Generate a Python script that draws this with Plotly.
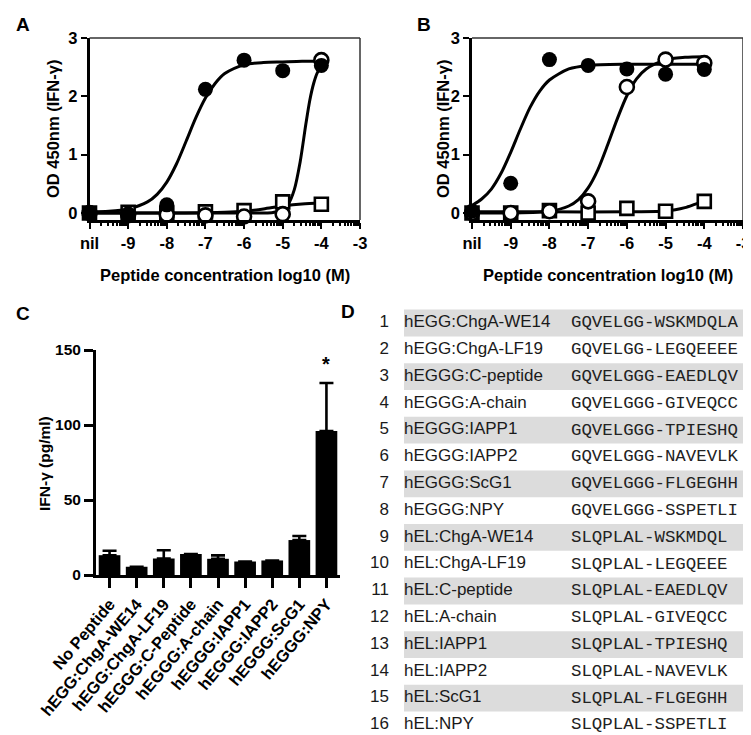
import numpy as np
import plotly.graph_objects as go

FONT = "Arial, Liberation Sans, Helvetica, sans-serif"
MONO = "Courier New, Liberation Mono, monospace"
W, H = 751, 735

# ---------------- data: panels A and B ----------------
conc_ticks = [-10, -9, -8, -7, -6, -5, -4, -3]
conc_labels = ["nil", "-9", "-8", "-7", "-6", "-5", "-4", "-3"]
conc = [-10, -9, -8, -7, -6, -5, -4]

a_filled = [0.00, -0.05, 0.14, 2.12, 2.62, 2.44, 2.53]
a_open = [0.00, -0.03, -0.03, -0.04, -0.06, -0.02, 2.62]
a_square = [0.00, 0.01, 0.00, 0.02, 0.04, 0.19, 0.15]

b_filled = [0.03, 0.51, 2.63, 2.53, 2.47, 2.38, 2.46]
b_open = [0.00, 0.00, 0.03, 0.20, 2.16, 2.63, 2.57]
b_square = [0.00, 0.00, 0.04, 0.00, 0.08, 0.03, 0.20]

# fitted curves
a_fit_filled_x = [-10, -9.5, -9, -8.5, -8.25, -8, -7.75, -7.5, -7.25, -7, -6.75, -6.5, -6, -5.5, -5, -4.5, -4]
a_fit_filled_y = [0.02, 0.03, 0.07, 0.19, 0.32, 0.53, 0.84, 1.23, 1.63, 1.97, 2.22, 2.39, 2.54, 2.58, 2.59, 2.60, 2.60]
a_fit_open_x = [-10, -9, -8, -7, -6, -5.5, -5.25, -5, -4.85, -4.7, -4.55, -4.4, -4.3, -4.2, -4.1, -4]
a_fit_open_y = [0.00, 0.00, 0.00, 0.00, 0.00, 0.00, 0.01, 0.06, 0.16, 0.40, 0.87, 1.53, 1.93, 2.22, 2.41, 2.51]
a_fit_square_x = [-10, -9, -8, -7, -6.5, -6, -5.5, -5, -4.5, -4]
a_fit_square_y = [0.00, 0.00, 0.00, 0.004, 0.011, 0.03, 0.07, 0.12, 0.155, 0.171]

b_fit_filled_x = [-10, -9.75, -9.5, -9.25, -9, -8.75, -8.5, -8.25, -8, -7.5, -7, -6, -5, -4]
b_fit_filled_y = [0.13, 0.24, 0.41, 0.68, 1.04, 1.44, 1.81, 2.09, 2.28, 2.47, 2.53, 2.55, 2.55, 2.55]
b_fit_open_x = [-10, -9, -8, -7.5, -7.25, -7, -6.75, -6.5, -6.25, -6, -5.75, -5.5, -5, -4.5, -4]
b_fit_open_y = [0.00, 0.00, 0.03, 0.12, 0.23, 0.43, 0.74, 1.16, 1.61, 2.01, 2.30, 2.47, 2.63, 2.67, 2.68]
b_fit_square_x = [-10, -8, -6, -5, -4.75, -4.5, -4.25, -4]
b_fit_square_y = [0.02, 0.02, 0.02, 0.036, 0.057, 0.093, 0.148, 0.207]

# ---------------- data: panel C ----------------
c_categories = ["No Peptide", "hEGG:ChgA-WE14", "hEGG:ChgA-LF19", "hEGGG:C-Peptide",
                "hEGGG:A-chain", "hEGGG:IAPP1", "hEGGG:IAPP2", "hEGGG:ScG1", "hEGGG:NPY"]
c_values = [13.2, 5.5, 11.0, 14.0, 10.8, 9.0, 9.7, 23.3, 96.0]
c_errors = [3.0, 0.0, 5.5, 0.0, 2.3, 0.0, 0.0, 2.7, 32.0]
c_star_category = "hEGGG:NPY"

# ---------------- data: panel D ----------------
d_rows = list(range(1, 17))
d_names = ["hEGG:ChgA-WE14", "hEGG:ChgA-LF19", "hEGGG:C-peptide", "hEGGG:A-chain",
           "hEGGG:IAPP1", "hEGGG:IAPP2", "hEGGG:ScG1", "hEGGG:NPY",
           "hEL:ChgA-WE14", "hEL:ChgA-LF19", "hEL:C-peptide", "hEL:A-chain",
           "hEL:IAPP1", "hEL:IAPP2", "hEL:ScG1", "hEL:NPY"]
d_sequences = ["GQVELGG-WSKMDQLA", "GQVELGG-LEGQEEEE", "GQVELGGG-EAEDLQV", "GQVELGGG-GIVEQCC",
               "GQVELGGG-TPIESHQ", "GQVELGGG-NAVEVLK", "GQVELGGG-FLGEGHH", "GQVELGGG-SSPETLI",
               "SLQPLAL-WSKMDQL", "SLQPLAL-LEGQEEE", "SLQPLAL-EAEDLQV", "SLQPLAL-GIVEQCC",
               "SLQPLAL-TPIESHQ", "SLQPLAL-NAVEVLK", "SLQPLAL-FLGEGHH", "SLQPLAL-SSPETLI"]

# ---------------- figure ----------------
fig = go.Figure()


def px_x(p):
    return p / W


def px_y(p):
    return 1 - p / H


def add_dose_panel(xa, ya, filled, opn, sq, fits):
    for fx, fy in fits:
        fig.add_trace(go.Scatter(x=fx, y=fy, mode="lines", line=dict(color="black", width=3, shape="spline", smoothing=0.8),
                                 xaxis=xa, yaxis=ya, hoverinfo="skip", cliponaxis=False))
    fig.add_trace(go.Scatter(x=conc, y=sq, mode="markers", xaxis=xa, yaxis=ya, cliponaxis=False,
                             marker=dict(symbol="square", size=13, color="white", line=dict(color="black", width=2.6))))
    fig.add_trace(go.Scatter(x=conc, y=opn, mode="markers", xaxis=xa, yaxis=ya, cliponaxis=False,
                             marker=dict(symbol="circle", size=14, color="white", line=dict(color="black", width=2.6))))
    fig.add_trace(go.Scatter(x=conc, y=filled, mode="markers", xaxis=xa, yaxis=ya, cliponaxis=False,
                             marker=dict(symbol="circle", size=15, color="black", line=dict(width=0))))


add_dose_panel("x", "y", a_filled, a_open, a_square,
               [(a_fit_square_x, a_fit_square_y), (a_fit_open_x, a_fit_open_y), (a_fit_filled_x, a_fit_filled_y)])
add_dose_panel("x2", "y2", b_filled, b_open, b_square,
               [(b_fit_square_x, b_fit_square_y), (b_fit_open_x, b_fit_open_y), (b_fit_filled_x, b_fit_filled_y)])

# panel C bars
fig.add_trace(go.Bar(x=c_categories, y=c_values, xaxis="x3", yaxis="y3", width=0.8,
                     marker=dict(color="black", line=dict(width=0)),
                     error_y=dict(type="data", array=c_errors, arrayminus=[0] * len(c_errors), symmetric=False,
                                  color="black", thickness=2.6, width=7)))

# panel D bands and text
band_rows = [r for r in d_rows if r % 2 == 1]
fig.add_trace(go.Bar(y=band_rows, x=[350] * len(band_rows), base=396, orientation="h", width=1,
                     xaxis="x4", yaxis="y4", marker=dict(color="#dcdcdc", line=dict(width=0)), hoverinfo="skip"))
fig.add_trace(go.Scatter(x=[381] * 16, y=d_rows, mode="text", text=[str(r) for r in d_rows],
                         textposition="middle left", xaxis="x4", yaxis="y4", cliponaxis=False,
                         textfont=dict(family=FONT, size=17, color="#1a1a1a")))
fig.add_trace(go.Scatter(x=[396] * 16, y=d_rows, mode="text", text=d_names,
                         textposition="middle right", xaxis="x4", yaxis="y4", cliponaxis=False,
                         textfont=dict(family=FONT, size=17, color="#1a1a1a")))
fig.add_trace(go.Scatter(x=[563] * 16, y=d_rows, mode="text", text=d_sequences,
                         textposition="middle right", xaxis="x4", yaxis="y4", cliponaxis=False,
                         textfont=dict(family=MONO, size=17.4, color="#222222")))

tickfont = dict(family=FONT, size=16.5, color="black", weight="bold")
minor_vals = [d + np.log10(k) for d in range(-10, -3) for k in range(2, 10)]

x_common = dict(range=[-10, -3], tickmode="array", tickvals=conc_ticks, ticktext=conc_labels,
                showline=True, linecolor="black", linewidth=2.5, ticks="outside", ticklen=6, tickwidth=2,
                tickcolor="black", showgrid=False, zeroline=False, tickfont=tickfont, automargin=False,
                minor=dict(tickmode="array", tickvals=minor_vals, ticks="outside", ticklen=3, tickwidth=1.5,
                           tickcolor="black", showgrid=False), fixedrange=True)
y_common = dict(range=[-0.12, 3], tickmode="array", tickvals=[0, 1, 2, 3], showline=True, linecolor="black",
                linewidth=2.5, ticks="outside", ticklen=6, tickwidth=2, tickcolor="black", showgrid=False,
                zeroline=False, tickfont=tickfont, fixedrange=True, automargin=False)

# table rows: row 1 centred at y=315 px, row pitch 26.8 px
row1_px, row_pitch = 315.0, 26.8
tbl_top_px = 300.0
tbl_top_val = 1 + (tbl_top_px - row1_px) / row_pitch
tbl_bot_val = 1 + (H - row1_px) / row_pitch

yA = [px_y(212), px_y(30)]
fig.update_layout(
    template="none",
    width=W, height=H, margin=dict(l=0, r=0, t=0, b=0, pad=0), autosize=False,
    paper_bgcolor="white", plot_bgcolor="rgba(0,0,0,0)", showlegend=False,
    font=dict(family=FONT, color="black"),
    xaxis=dict(x_common, domain=[px_x(81.5), px_x(352)], anchor="y"),
    yaxis=dict(y_common, domain=yA, anchor="x"),
    xaxis2=dict(x_common, domain=[px_x(464), px_x(735)], anchor="y2"),
    yaxis2=dict(y_common, domain=yA, anchor="x2"),
    xaxis3=dict(type="category", categoryorder="array", categoryarray=c_categories, range=[-0.5, 8.5],
                domain=[px_x(88), px_x(332)], anchor="y3", showline=True, linecolor="black", linewidth=3,
                ticks="outside", ticklen=10, tickwidth=3, tickcolor="black", tickangle=-50, showgrid=False,
                zeroline=False, tickfont=dict(family=FONT, size=16.5, color="black", weight="bold"),
                fixedrange=True, automargin=False),
    yaxis3=dict(range=[0, 150], tickmode="array", tickvals=[0, 50, 100, 150], domain=[px_y(567), px_y(342)],
                anchor="x3", showline=True, linecolor="black", linewidth=3, ticks="outside", ticklen=9,
                tickwidth=3, tickcolor="black", showgrid=False, zeroline=False,
                tickfont=dict(family=FONT, size=15.5, color="black", weight="bold"),
                fixedrange=True, automargin=False),
    xaxis4=dict(domain=[px_x(361), 1], range=[361, 751], visible=False, fixedrange=True, anchor="y4",
                automargin=False),
    yaxis4=dict(domain=[0, px_y(tbl_top_px)], range=[tbl_bot_val, tbl_top_val], visible=False, fixedrange=True,
                anchor="x4", automargin=False),
    bargap=0.2,
)

# frames on A and B
for xa, ya in (("x", "y"), ("x2", "y2")):
    fig.add_shape(type="line", xref=xa + " domain", yref=ya + " domain", x0=0, x1=1, y0=1, y1=1,
                  line=dict(color="#333333", width=1.5))
    fig.add_shape(type="line", xref=xa + " domain", yref=ya + " domain", x0=1, x1=1, y0=0, y1=1,
                  line=dict(color="#333333", width=1.5))

title_font = dict(family=FONT, size=16.5, color="black", weight="bold")
annos = [
    dict(text="OD 450nm (IFN-γ)", x=px_x(45), y=px_y(121), textangle=-90, font=title_font),
    dict(text="Peptide concentration log10 (M)", x=px_x(217), y=px_y(267), font=title_font),
    dict(text="OD 450nm (IFN-γ)", x=px_x(435), y=px_y(121), textangle=-90, font=title_font),
    dict(text="Peptide concentration log10 (M)", x=px_x(600), y=px_y(267), font=title_font),
    dict(text="IFN-γ (pg/ml)", x=px_x(36), y=px_y(456), textangle=-90,
         font=dict(family=FONT, size=15.5, color="black", weight="bold")),
]
letter_font = dict(family=FONT, size=19, color="black", weight="bold")
for t, x, y in (("A", 15, 16), ("B", 416, 16), ("C", 15, 305), ("D", 340, 304)):
    annos.append(dict(text=t, x=px_x(x), y=px_y(y), font=letter_font))
for a in annos:
    fig.add_annotation(xref="paper", yref="paper", xanchor="center", yanchor="middle", showarrow=False, **a)

# significance star on panel C
fig.add_annotation(x=c_star_category, y=141, xref="x3", yref="y3", text="*", showarrow=False,
                   font=dict(family=FONT, size=20, color="black", weight="bold"), yanchor="middle")

fig.write_html("out.html")
